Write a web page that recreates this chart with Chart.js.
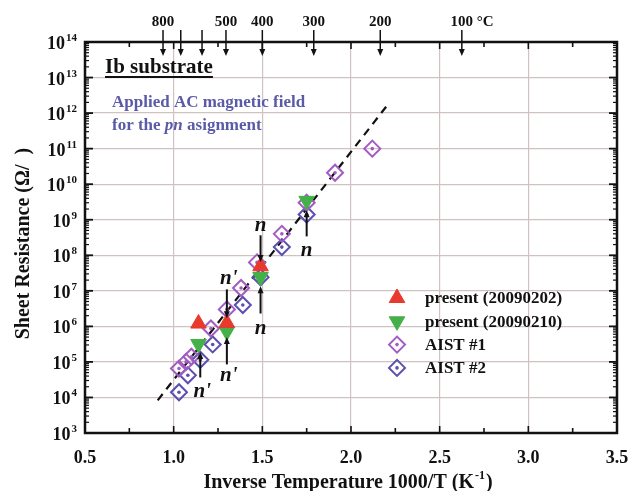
<!DOCTYPE html>
<html><head><meta charset="utf-8">
<script src="https://cdn.jsdelivr.net/npm/chart.js@4.4.0/dist/chart.umd.min.js"></script>
<style>html,body{margin:0;padding:0;background:#fff}canvas{display:block}</style>
</head><body>
<canvas id="c" width="630" height="491"></canvas>
<script>
// ---- data ----
const xTickValues = [0.5, 1.0, 1.5, 2.0, 2.5, 3.0, 3.5];
const yDecades = [3, 4, 5, 6, 7, 8, 9, 10, 11, 12, 13, 14];
const red0202X = [1.14, 1.30, 1.49];
const red0202Y = [1.2e6, 1.25e6, 4.9e7];
const green0210X = [1.14, 1.30, 1.49, 1.75];
const green0210Y = [3.2e5, 7.2e5, 2.45e7, 3.4e9];
const aist1X = [1.03, 1.07, 1.10, 1.21, 1.30, 1.38, 1.47, 1.61, 1.75, 1.91, 2.12];
const aist1Y = [6.5e4, 1.0e5, 1.4e5, 8.7e5, 3.0e6, 1.2e7, 6.3e7, 4.0e8, 3.0e9, 2.1e10, 1.0e11];
const aist2X = [1.03, 1.08, 1.15, 1.22, 1.39, 1.49, 1.61, 1.75];
const aist2Y = [1.4e4, 4.2e4, 1.15e5, 3.1e5, 4.0e6, 2.4e7, 1.7e8, 1.4e9];
const fitX = [0.91, 2.21];
const fitY = [8.3e3, 1.8e12];
const tempLabels = ['800', '', '', '500', '400', '300', '200', '100'];
const tempX = [0.94, 1.04, 1.16, 1.295, 1.50, 1.79, 2.165, 2.625];
const annText = ['n', "n'", 'n', 'n', "n'", "n'"];
const annX = [1.49, 1.30, 1.49, 1.75, 1.30, 1.15];
const annLabelY = [7.0e8, 2.25e7, 8.8e5, 1.4e8, 4.2e4, 1.5e4];
const annFromY = [3.65e8, 1.1e7, 2.3e6, 3.4e8, 8.5e4, 3.65e4];
const annToY = [6.5e7, 1.7e6, 1.34e7, 1.85e9, 5.0e5, 1.9e5];
const legendLabels = ['present (20090202)', 'present (20090210)', 'AIST #1', 'AIST #2'];

const F = "'Liberation Serif','Times New Roman',serif";
const RED = '#e8392c', GREEN = '#45b04a', AIST1 = '#a35bc4', AIST2 = '#5b4fb0';
const GRID = '#d0c2c2';
const pts = (xs, ys) => xs.map((x, i) => ({x: x, y: ys[i]}));

function arrowHead(ctx, x, y, dir) { // dir: 1 down, -1 up
  ctx.beginPath();
  ctx.moveTo(x - 3, y - dir * 7);
  ctx.lineTo(x + 3, y - dir * 7);
  ctx.lineTo(x, y);
  ctx.closePath();
  ctx.fill();
}

const overlay = {
  id: 'overlay',
  afterDatasetDraw(chart, args) {
    const ds = chart.data.datasets[args.index];
    if (!ds.centerDot) return;
    const ctx = chart.ctx;
    ctx.save();
    ctx.fillStyle = ds.borderColor;
    args.meta.data.forEach(p => { ctx.beginPath(); ctx.arc(p.x, p.y, 1.8, 0, 2 * Math.PI); ctx.fill(); });
    ctx.restore();
  },
  afterDraw(chart) {
    const ctx = chart.ctx, xs = chart.scales.x, ys = chart.scales.y, a = chart.chartArea;
    ctx.save();
    // frame
    ctx.strokeStyle = '#111'; ctx.lineWidth = 2.5;
    ctx.strokeRect(a.left, a.top, a.right - a.left, a.bottom - a.top);
    // x ticks (bottom & top)
    ctx.lineWidth = 1.6;
    for (let v = 0.75; v < 3.5; v += 0.25) {
      const px = xs.getPixelForValue(v);
      const L = (Math.abs(v * 2 - Math.round(v * 2)) < 1e-6) ? 7 : 5;
      ctx.beginPath(); ctx.moveTo(px, a.bottom); ctx.lineTo(px, a.bottom - L); ctx.stroke();
      ctx.beginPath(); ctx.moveTo(px, a.top); ctx.lineTo(px, a.top + L); ctx.stroke();
    }
    // y ticks (left & right)
    yDecades.forEach(e => {
      for (let k = 1; k <= 9; k++) {
        const val = k * Math.pow(10, e);
        if (val > 1e14) break;
        const py = ys.getPixelForValue(val);
        const L = k === 1 ? 8 : 4;
        ctx.lineWidth = k === 1 ? 1.8 : 1.2;
        ctx.beginPath(); ctx.moveTo(a.left, py); ctx.lineTo(a.left + L, py); ctx.stroke();
        ctx.beginPath(); ctx.moveTo(a.right, py); ctx.lineTo(a.right - L, py); ctx.stroke();
      }
    });
    // y tick labels 10^n
    ctx.fillStyle = '#111';
    ctx.textBaseline = 'alphabetic';
    yDecades.forEach(e => {
      const py = ys.getPixelForValue(Math.pow(10, e));
      ctx.font = 'bold 11px ' + F;
      const ew = ctx.measureText(String(e)).width;
      ctx.font = 'bold 18px ' + F;
      const bw = ctx.measureText('10').width;
      const right = a.left - 8;
      ctx.textAlign = 'left';
      ctx.fillText('10', right - ew - bw - 1, py + 7);
      ctx.font = 'bold 11px ' + F;
      ctx.fillText(String(e), right - ew, py - 1);
    });
    // axis titles
    const t1 = 'Inverse Temperature 1000/T (K', t2 = ')';
    ctx.font = 'bold 20px ' + F; const w1 = ctx.measureText(t1).width, w3 = ctx.measureText(t2).width;
    ctx.font = 'bold 12px ' + F; const w2 = ctx.measureText('-1').width;
    let sx = (a.left + a.right) / 2 - (w1 + w2 + w3) / 2 - 4;
    ctx.textAlign = 'left';
    ctx.font = 'bold 20px ' + F; ctx.fillText(t1, sx, 488);
    ctx.font = 'bold 12px ' + F; ctx.fillText('-1', sx + w1 + 1, 479);
    ctx.font = 'bold 20px ' + F; ctx.fillText(t2, sx + w1 + w2 + 2, 488);
    ctx.save();
    ctx.translate(29, (a.top + a.bottom) / 2 + 6);
    ctx.rotate(-Math.PI / 2);
    ctx.textAlign = 'center';
    ctx.font = 'bold 20px ' + F;
    ctx.fillText('Sheet Resistance (\u03A9/  )', 0, 0);
    ctx.restore();
    // top temperature arrows
    ctx.strokeStyle = '#111'; ctx.fillStyle = '#111'; ctx.lineWidth = 1.5;
    tempX.forEach((v, i) => {
      const px = xs.getPixelForValue(v);
      ctx.beginPath(); ctx.moveTo(px, a.top - 12); ctx.lineTo(px, a.top + 8); ctx.stroke();
      arrowHead(ctx, px, a.top + 14, 1);
      const lab = tempLabels[i];
      if (lab) {
        ctx.font = 'bold 15px ' + F;
        const w = ctx.measureText(lab).width;
        ctx.textAlign = 'left';
        ctx.fillText(lab, px - w / 2, a.top - 16);
        if (i === tempX.length - 1) ctx.fillText(' \u00B0C', px + w / 2, a.top - 16);
      }
    });
    // annotations n / n'
    ctx.lineWidth = 2;
    annX.forEach((v, i) => {
      const px = xs.getPixelForValue(v);
      const yf = ys.getPixelForValue(annFromY[i]), yt = ys.getPixelForValue(annToY[i]);
      ctx.beginPath(); ctx.moveTo(px, yf); ctx.lineTo(px, yt + (yt > yf ? -5 : 5)); ctx.stroke();
      arrowHead(ctx, px, yt, yt > yf ? 1 : -1);
      ctx.font = 'italic bold 21px ' + F;
      ctx.textAlign = 'center'; ctx.textBaseline = 'middle';
      ctx.fillText(annText[i], px + (annText[i].length > 1 ? 2 : 0), ys.getPixelForValue(annLabelY[i]));
    });
    ctx.textBaseline = 'alphabetic';
    // "Ib substrate"
    ctx.textAlign = 'left';
    ctx.font = 'bold 21px ' + F;
    const ibw = ctx.measureText('Ib substrate').width;
    ctx.fillText('Ib substrate', a.left + 20, a.top + 31);
    ctx.fillRect(a.left + 20, a.top + 34, ibw, 2);
    // blue note
    ctx.fillStyle = '#5a5aa8';
    ctx.font = 'bold 17px ' + F;
    ctx.fillText('Applied AC magnetic field', a.left + 27, a.top + 65);
    let bx = a.left + 27;
    ctx.fillText('for the ', bx, a.top + 88); bx += ctx.measureText('for the ').width;
    ctx.font = 'italic bold 17px ' + F;
    ctx.fillText('pn', bx, a.top + 88); bx += ctx.measureText('pn').width;
    ctx.font = 'bold 17px ' + F;
    ctx.fillText(' asignment', bx, a.top + 88);
    // legend
    const lx = a.left + 312, ly0 = a.top + 256, dy = 23.3;
    chart.data.datasets.slice(0, 4).forEach((ds, i) => {
      const y = ly0 + i * dy;
      ctx.save();
      ctx.fillStyle = ds.backgroundColor; ctx.strokeStyle = ds.borderColor; ctx.lineWidth = ds.borderWidth;
      Chart.helpers.drawPoint(ctx, {pointStyle: ds.pointStyle, rotation: ds.rotation || 0, radius: ds.pointRadius, borderWidth: ds.borderWidth}, lx, y);
      if (ds.centerDot) { ctx.fillStyle = ds.borderColor; ctx.beginPath(); ctx.arc(lx, y, 1.8, 0, 2 * Math.PI); ctx.fill(); }
      ctx.restore();
      ctx.fillStyle = '#111'; ctx.font = 'bold 17px ' + F; ctx.textAlign = 'left'; ctx.textBaseline = 'middle';
      ctx.fillText(legendLabels[i], lx + 28, y + 1);
    });
    ctx.restore();
  }
};

new Chart(document.getElementById('c'), {
  type: 'scatter',
  data: {
    datasets: [
      {label: legendLabels[0], data: pts(red0202X, red0202Y), pointStyle: 'triangle', pointRadius: 9, backgroundColor: RED, borderColor: RED, borderWidth: 1},
      {label: legendLabels[1], data: pts(green0210X, green0210Y), pointStyle: 'triangle', rotation: 180, pointRadius: 9, backgroundColor: GREEN, borderColor: GREEN, borderWidth: 1},
      {label: legendLabels[2], data: pts(aist1X, aist1Y), pointStyle: 'rectRot', pointRadius: 8, backgroundColor: 'rgba(0,0,0,0)', borderColor: AIST1, borderWidth: 2, centerDot: true},
      {label: legendLabels[3], data: pts(aist2X, aist2Y), pointStyle: 'rectRot', pointRadius: 8, backgroundColor: 'rgba(0,0,0,0)', borderColor: AIST2, borderWidth: 2, centerDot: true},
      {label: 'fit', data: pts(fitX, fitY), showLine: true, borderColor: '#111', borderWidth: 2.2, borderDash: [8, 6], pointRadius: 0, fill: false}
    ]
  },
  options: {
    responsive: false,
    animation: false,
    devicePixelRatio: 1,
    layout: {padding: {top: 42, right: 13, left: 0, bottom: 0}},
    plugins: {legend: {display: false}, tooltip: {enabled: false}},
    scales: {
      x: {
        type: 'linear', min: 0.5, max: 3.5, position: 'bottom',
        afterBuildTicks(s) { s.ticks = xTickValues.map(v => ({value: v})); },
        ticks: {callback: v => Number(v).toFixed(1), color: '#111', font: {family: F, size: 18, weight: 'bold'}, padding: 15, maxRotation: 0, autoSkip: false},
        grid: {color: GRID, lineWidth: 1.2, drawTicks: false},
        border: {display: false},
        afterFit(s) { s.height = 58; s.paddingLeft = 0; s.paddingRight = 0; }
      },
      y: {
        type: 'logarithmic', min: 1e3, max: 1e14,
        afterBuildTicks(s) { s.ticks = yDecades.map(e => ({value: Math.pow(10, e)})); },
        ticks: {display: false},
        grid: {color: GRID, lineWidth: 1.2, drawTicks: false},
        border: {display: false},
        afterFit(s) { s.width = 85; s.paddingTop = 0; s.paddingBottom = 0; }
      }
    }
  },
  plugins: [overlay]
});
</script>
</body></html>
